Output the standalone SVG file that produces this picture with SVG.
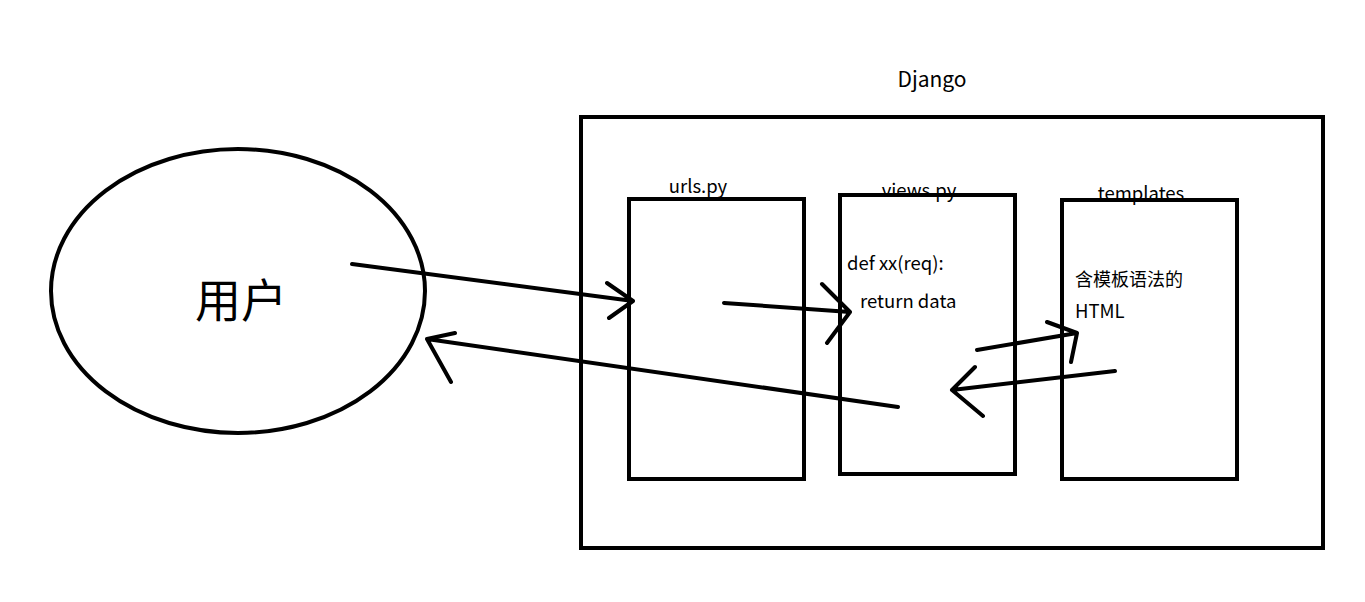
<svg xmlns="http://www.w3.org/2000/svg" width="1365" height="602" viewBox="0 0 1365 602">
<style>
.box{fill:none;stroke:#000;stroke-width:4}
.ln{fill:none;stroke:#000;stroke-width:4;stroke-linecap:round;stroke-linejoin:round}
.t{font-family:"Noto Sans CJK SC","Noto Sans",sans-serif;font-size:18.5px;fill:#000}
</style>
<rect width="1365" height="602" fill="#fff"/>
<g id="user">
<ellipse cx="238" cy="291" rx="187" ry="142" class="box"/>
<text x="241" y="317" text-anchor="middle" class="t" style="font-size:46px">用户</text>
</g>
<g id="django">
<text x="932" y="87" text-anchor="middle" class="t" style="font-size:21px">Django</text>
<rect x="581" y="117" width="742" height="431" class="box"/>
</g>
<g id="urls">
<text x="698" y="193" text-anchor="middle" class="t">urls.py</text>
<rect x="629" y="199" width="175" height="280" class="box"/>
</g>
<g id="views">
<text x="919" y="197" text-anchor="middle" class="t">views.py</text>
<rect x="840" y="195" width="175" height="279" class="box"/>
<text x="847" y="270" class="t">def xx(req):</text>
<text x="860" y="308" class="t">return data</text>
</g>
<g id="templates">
<text x="1141" y="200" text-anchor="middle" class="t">templates</text>
<rect x="1062" y="200" width="175" height="279" class="box"/>
<text x="1075" y="286" class="t" style="font-size:18px">含模板语法的</text>
<text x="1075" y="318" class="t">HTML</text>
</g>
<g id="connectors">
<path class="ln" d="M352,264 L633,301 M607,283 L633,301 L609,318"/>
<path class="ln" d="M898,407 L427,339 M455,333 L427,339 L451,382"/>
<path class="ln" d="M724,303 L850,312 M822,284 L850,312 L827,343"/>
<path class="ln" d="M977,350 L1077,333 M1047,322 L1077,333 L1071,362"/>
<path class="ln" d="M1115,371 L952,390 M975,367 L952,390 L983,416"/>
</g>
</svg>
